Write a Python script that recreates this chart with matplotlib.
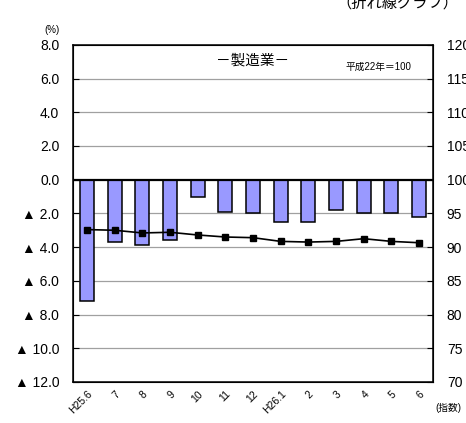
import matplotlib
matplotlib.use('Agg')
import matplotlib.pyplot as plt
import numpy as np

plt.rcParams['font.family'] = ['Liberation Sans', 'Noto Sans CJK JP', 'DejaVu Sans']

# data
months = ['H25.6', '7', '8', '9', '10', '11', '12', 'H26.1', '2', '3', '4', '5', '6']
change_pct = [-7.2, -3.7, -3.9, -3.6, -1.0, -1.9, -2.0, -2.5, -2.5, -1.8, -2.0, -2.0, -2.2]
index_vals = [92.6, 92.5, 92.1, 92.2, 91.8, 91.5, 91.4, 90.85, 90.75, 90.85, 91.25, 90.85, 90.65]
left_ticks = [8, 6, 4, 2, 0, -2, -4, -6, -8, -10, -12]
right_ticks = [120, 115, 110, 105, 100, 95, 90, 85, 80, 75, 70]


def fmt_left(v):
    if v < 0:
        return f'▲ {abs(v):.1f}'
    return f'{v:.1f}'


fig = plt.figure(figsize=(4.66, 4.23), dpi=100)
ax = fig.add_axes([0.157, 0.097, 0.772, 0.797])
x = np.arange(len(months))

ax.set_xlim(-0.5, len(months) - 0.5)
ax.set_ylim(-12, 8)
ax.set_yticks(left_ticks)
ax.set_yticklabels([fmt_left(v) for v in left_ticks], fontsize=10)
for v in left_ticks:
    if v not in (8, -12, 0):
        ax.axhline(v, color='#a0a0a0', linewidth=0.9, zorder=0)
ax.axhline(0, color='black', linewidth=1.6, zorder=3)

ax.bar(x, change_pct, width=0.5, color='#9999ff', edgecolor='black', linewidth=1.1, zorder=2)

ax.set_xticks(x)
ax.set_xticklabels(months, rotation=45, ha='right', va='top', fontsize=7.5,
                   rotation_mode='anchor')
ax.tick_params(axis='x', length=0, pad=5)
ax.tick_params(axis='y', direction='in', length=4, pad=10)
for sp in ax.spines.values():
    sp.set_linewidth(1.1)

ax2 = ax.twinx()
ax2.set_ylim(70, 120)
ax2.set_yticks(right_ticks)
ax2.set_yticklabels([str(v) for v in right_ticks], fontsize=10)
ax2.tick_params(axis='y', direction='in', length=4, pad=10)
ax2.plot(x, index_vals, color='black', linewidth=1.2, marker='s', markersize=5, zorder=4)

ax.text(0.5, 0.975, '－製造業－', transform=ax.transAxes, ha='center', va='top', fontsize=10.5)
ax.text(0.94, 0.95, '平成22年＝100', transform=ax.transAxes, ha='right', va='top', fontsize=7)
fig.text(52 / 466, 1 - 30 / 423, '(%)', ha='center', va='center', fontsize=7)
fig.text(448 / 466, 1 - 408 / 423, '(指数)', ha='center', va='center', fontsize=7)
fig.text(336 / 466, 1 - 3 / 423, '（折れ線グラフ）', ha='left', va='center', fontsize=11)

fig.savefig('out.png', dpi=100)
